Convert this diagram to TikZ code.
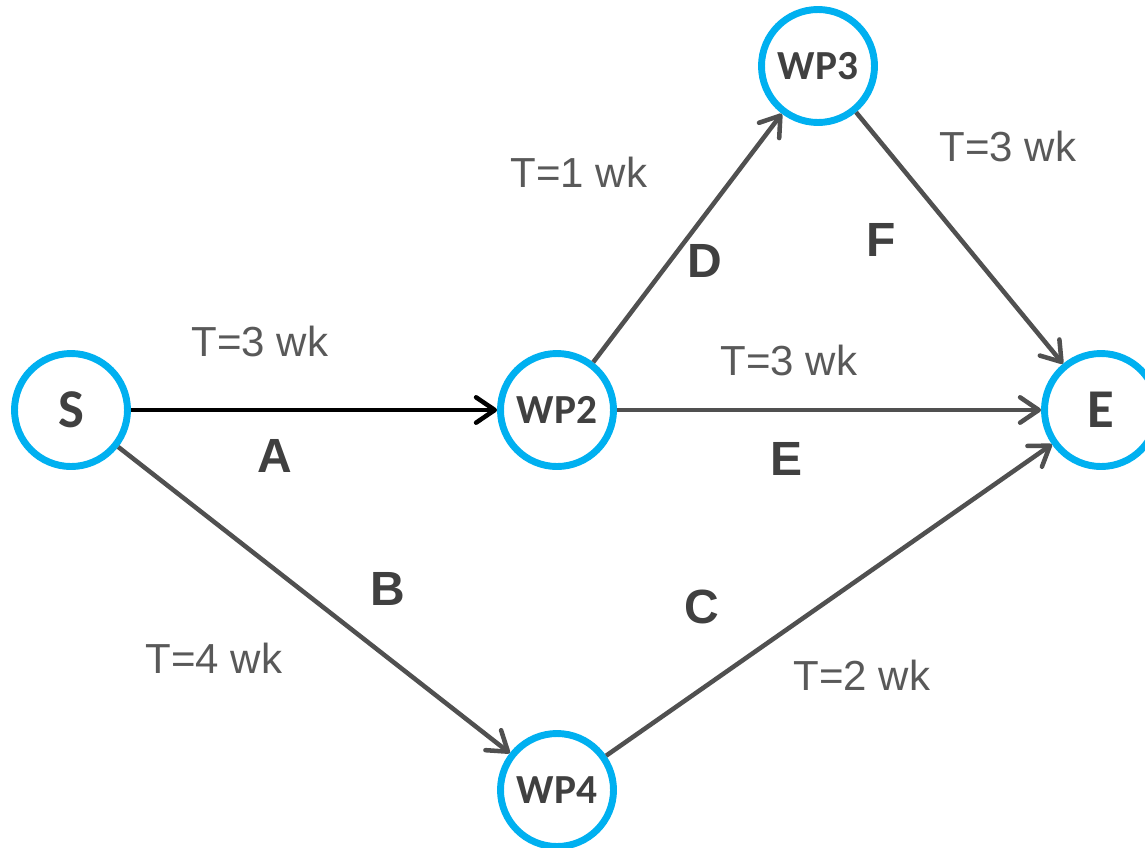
\documentclass[tikz,border=0pt]{standalone}
\usepackage{fontspec}
\setmainfont{Liberation Sans}
\newfontfamily\nodefont{Carlito}
\usepackage{xcolor}
\usetikzlibrary{arrows.meta,positioning}
\definecolor{ringblue}{HTML}{00B0F0}
\definecolor{edgegray}{HTML}{505050}
\definecolor{lettergray}{HTML}{404040}
\definecolor{timegray}{HTML}{595959}
\tikzset{
	wp/.style={draw=ringblue, circle, line width=5.2pt, inner sep=0pt,
		minimum size=84.75pt, fill=white, text=lettergray,
		font=\nodefont\fontsize{31}{31}\selectfont\bfseries},
	ends/.style={wp, font=\nodefont\fontsize{41}{41}\selectfont\bfseries},
	act/.style={draw=edgegray, line width=3.4pt,
		-{Straight Barb[length=14pt, width=19pt, round]}},
	crit/.style={act, draw=black},
	tlbl/.style={text=timegray, font=\fontsize{31.5}{31.5}\selectfont},
	albl/.style={text=lettergray, font=\fontsize{36}{36}\selectfont\bfseries},
}

\begin{document}
\begin{tikzpicture}[x=0.75pt, y=-0.75pt]
	\useasboundingbox (0,0) rectangle (1145,847);
	% work packages
	\node[ends] at (71,410) (s) {S};
	\node[wp] at (557,410) (wp2) {WP2};
	\node[wp] at (818,66) (wp3) {WP3};
	\node[ends] at (1101,410) (e) {E};
	\node[wp] at (557,790) (wp4) {WP4};
	% activities
	\draw[crit] (s) -- (wp2);
	\draw[act] (wp2) -- (e);
	\draw[act] (wp2) -- (wp3);
	\draw[act] (wp3) -- (e);
	\draw[act] (s) -- (wp4);
	\draw[act] (wp4) -- (e);
	% durations
	\node[tlbl] at (260,341) (tA) {T=3 wk};
	\node[tlbl] at (579,172) (tD) {T=1 wk};
	\node[tlbl] at (1008,146) (tF) {T=3 wk};
	\node[tlbl] at (789,360) (tE) {T=3 wk};
	\node[tlbl] at (214,658) (tB) {T=4 wk};
	\node[tlbl] at (862,675) (tC) {T=2 wk};
	% activity letters
	\node[albl] at (275,456) (lA) {A};
	\node[albl] at (388,589) (lB) {B};
	\node[albl] at (702,607) (lC) {C};
	\node[albl] at (705,261) (lD) {D};
	\node[albl] at (786,459) (lE) {E};
	\node[albl] at (881,240) (lF) {F};
\end{tikzpicture}
\end{document}
